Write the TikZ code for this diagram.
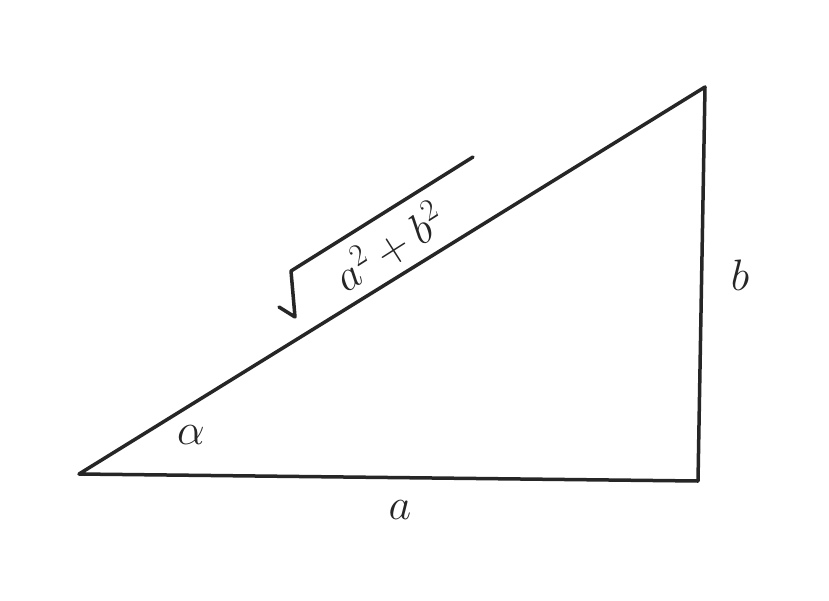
\RequirePackage{fix-cm}
\documentclass[tikz,border=0pt]{standalone}
\begin{document}
\begin{tikzpicture}[x=1pt,y=-1pt,
  edge/.style={line width=3.5pt,draw=black!85,line cap=round,line join=round},
  lbl/.style={font=\fontsize{44}{48}\selectfont,text=black!85,inner sep=0pt}]
\useasboundingbox[fill=white] (0,0) rectangle (829,600);
\coordinate (A) at (79,474);
\coordinate (B) at (698,481);
\coordinate (C) at (705,87);
\draw[edge] (A) -- (B) -- (C) -- cycle;
% square root sign
\coordinate (s1) at (279,307);
\coordinate (s2) at (295,317);
\coordinate (s3) at (291,271);
\coordinate (s4) at (473,157);
\draw[edge] (s1) -- (s2) -- (s3) -- (s4);
\node[lbl,rotate=32.5] (rad) at (389,247) {$a^2+b^2$};
\node[lbl] (alpha) at (191,435) {$\alpha$};
\node[lbl] (la) at (400,510) {$a$};
\node[lbl] (lb) at (740,275) {$b$};
\end{tikzpicture}
\end{document}
